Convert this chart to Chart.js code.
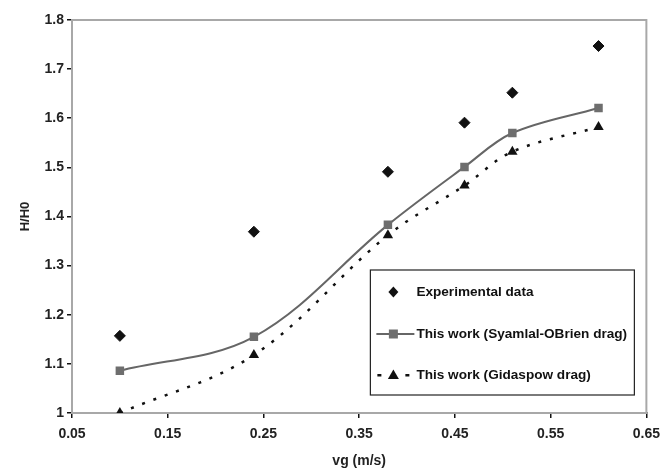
<!DOCTYPE html>
<html>
<head>
<meta charset="utf-8">
<script src="https://cdn.jsdelivr.net/npm/chart.js@4"></script>
<style>
  html, body { margin: 0; padding: 0; background: #fff; }
  #wrap { width: 668px; height: 474px; }
</style>
</head>
<body>
<div id="wrap"><canvas id="myChart" width="668" height="474"></canvas></div>
<script>
// gas velocity (m/s)
var vg = [0.1, 0.24, 0.38, 0.46, 0.51, 0.6];
var experimental = [1.157, 1.369, 1.491, 1.591, 1.652, 1.747];
var syamlalOBrien = [1.086, 1.155, 1.383, 1.501, 1.570, 1.621];
var gidaspow = [1.0, 1.118, 1.362, 1.463, 1.532, 1.582];
var seriesLabels = ['Experimental data', 'This work (Syamlal-OBrien drag)', 'This work (Gidaspow drag)'];

var FONT = 'Liberation Sans, Arial, sans-serif';

function pts(ys) {
    return vg.map(function (x, i) { return { x: x, y: ys[i] }; });
}

// grey frame round the plot area (top and right edges show)
var frame = {
    id: 'frame',
    beforeDatasetsDraw: function (chart) {
        var a = chart.chartArea, c = chart.ctx;
        c.save();
        c.strokeStyle = '#a8a8a8';
        c.lineWidth = 2;
        c.strokeRect(a.left, a.top, a.right - a.left, a.bottom - a.top);
        c.restore();
    }
};

// boxed legend inside the plot
var boxLegend = {
    id: 'boxLegend',
    afterDatasetsDraw: function (chart) {
        var a = chart.chartArea, c = chart.ctx;
        var w = 264, h = 125;
        var left = a.right - 276, top = a.top + 250;
        c.save();
        c.fillStyle = '#fff';
        c.fillRect(left, top, w, h);
        c.strokeStyle = '#222';
        c.lineWidth = 1.2;
        c.strokeRect(left, top, w, h);
        c.font = 'bold 13.6px ' + FONT;
        c.textBaseline = 'middle';
        var rows = [top + 22, top + 64, top + 105];
        var mx = left + 23;
        var tx = left + 46;
        // diamond
        c.fillStyle = '#111';
        c.beginPath();
        c.moveTo(mx, rows[0] - 5.5);
        c.lineTo(mx + 5, rows[0]);
        c.lineTo(mx, rows[0] + 5.5);
        c.lineTo(mx - 5, rows[0]);
        c.closePath();
        c.fill();
        // line + square
        c.strokeStyle = '#666';
        c.lineWidth = 2;
        c.beginPath();
        c.moveTo(left + 6, rows[1]);
        c.lineTo(left + 44, rows[1]);
        c.stroke();
        c.fillStyle = '#6e6e6e';
        c.fillRect(mx - 4.5, rows[1] - 4.5, 9, 9);
        // dashes + triangle
        c.fillStyle = '#111';
        c.fillRect(left + 7, rows[2] - 1, 4, 2.5);
        c.fillRect(left + 35, rows[2] - 1, 4, 2.5);
        c.beginPath();
        c.moveTo(mx, rows[2] - 5.5);
        c.lineTo(mx + 5.5, rows[2] + 4);
        c.lineTo(mx - 5.5, rows[2] + 4);
        c.closePath();
        c.fill();
        c.fillStyle = '#111';
        for (var i = 0; i < seriesLabels.length; i++) {
            c.fillText(seriesLabels[i], tx, rows[i]);
        }
        c.restore();
    }
};

var ctx = document.getElementById('myChart').getContext('2d');
var chart = new Chart(ctx, {
    type: 'scatter',
    data: {
        datasets: [{
            label: seriesLabels[0],
            data: pts(experimental),
            showLine: false,
            pointStyle: 'rectRot',
            pointRadius: 5.5,
            backgroundColor: '#111',
            borderColor: '#111',
            borderWidth: 1
        },
        {
            label: seriesLabels[1],
            data: pts(syamlalOBrien),
            showLine: true,
            tension: 0.35,
            borderColor: '#666',
            borderWidth: 2,
            pointStyle: 'rect',
            pointRadius: 6,
            pointBackgroundColor: '#6e6e6e',
            pointBorderColor: '#6e6e6e',
            pointBorderWidth: 0
        },
        {
            label: seriesLabels[2],
            data: pts(gidaspow),
            showLine: true,
            tension: 0.35,
            borderColor: '#111',
            borderWidth: 2.5,
            borderDash: [3, 9],
            pointStyle: 'triangle',
            pointRadius: 6,
            pointBackgroundColor: '#111',
            pointBorderColor: '#111',
            pointBorderWidth: 0
        }]
    },
    options: {
        responsive: false,
        animation: false,
        layout: { padding: { top: 20, right: 18, left: 14, bottom: 0 } },
        plugins: {
            legend: { display: false },
            tooltip: { enabled: false }
        },
        scales: {
            x: {
                type: 'linear',
                min: 0.05,
                max: 0.65,
                afterFit: function (s) { s.height = 61; },
                ticks: {
                    stepSize: 0.1,
                    color: '#222',
                    padding: 8,
                    font: { family: FONT, size: 14, weight: 'bold' },
                    callback: function (v) { return (Math.round(v * 100) / 100).toString(); }
                },
                grid: { drawOnChartArea: false, tickLength: 5, color: '#111', lineWidth: 1.5 },
                border: { color: '#111', width: 1.5 },
                title: {
                    display: true,
                    text: 'vg (m/s)',
                    color: '#222',
                    padding: { top: 1 },
                    font: { family: FONT, size: 14, weight: 'bold' }
                }
            },
            y: {
                min: 1,
                max: 1.8,
                afterFit: function (s) { s.width = 58; },
                ticks: {
                    stepSize: 0.1,
                    color: '#222',
                    padding: 3,
                    font: { family: FONT, size: 14, weight: 'bold' },
                    callback: function (v) { return (Math.round(v * 10) / 10).toString(); }
                },
                grid: { drawOnChartArea: false, tickLength: 5, color: '#111', lineWidth: 1.5 },
                border: { color: '#111', width: 1.5 },
                title: {
                    display: true,
                    text: 'H/H0',
                    color: '#222',
                    font: { family: FONT, size: 13, weight: 'bold' }
                }
            }
        }
    },
    plugins: [frame, boxLegend]
});
</script>
</body>
</html>
